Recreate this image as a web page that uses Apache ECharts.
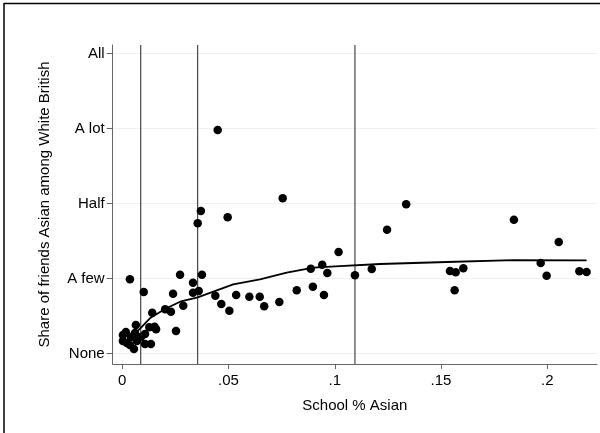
<!DOCTYPE html>
<html>
<head>
<meta charset="utf-8">
<script src="https://cdn.jsdelivr.net/npm/echarts@6/dist/echarts.min.js"></script>
<style>
  html, body { margin: 0; padding: 0; background: #fff; }
  #chart { width: 600px; height: 433px; }
</style>
</head>
<body>
<div id="chart"></div>
<script>
// tick positions and labels
const xTickValues = [0, 0.05, 0.1, 0.15, 0.2];
const xTickLabels = ['0', '.05', '.1', '.15', '.2'];
const yTickValues = [0, 1, 2, 3, 4];
const yTickLabels = ['None', 'A few', 'Half', 'A lot', 'All'];

// axis ranges
const xMin = -0.0045, xMax = 0.2234;
const yMin = -0.137, yMax = 4.116;

// vertical cut-off lines (school % Asian)
const cutoffs = [0.0087, 0.0355, 0.1095];

// one dot per school: share Asian, mean friendship share
const schoolAsian = [
  0.1336, 0.1246, 0.1843, 0.2054, 0.1542, 0.1569, 0.1605, 0.1564, 0.1969, 0.1997, 0.2151, 0.2185,
  0.0449, 0.0755, 0.0370, 0.0355, 0.0496, 0.1018, 0.0272, 0.0375, 0.0333, 0.0333, 0.0360, 0.0287,
  0.0438, 0.0466, 0.0504, 0.0536, 0.0598, 0.0647, 0.0668, 0.0739, 0.0821, 0.0887, 0.0897, 0.0941,
  0.0965, 0.0949, 0.1095, 0.1174,
  0.0036, 0.0101, 0.0239, 0.0141, 0.0202, 0.0229, 0.0253, 0.0064, 0.0127, 0.0159,
  0.0003, 0.0003, 0.0022, 0.0041, 0.0060, 0.0055, 0.0069, 0.0088, 0.0107, 0.0107, 0.0135, 0.0152,
  0.0036, 0.0017
];
const friendShare = [
  1.992, 1.653, 1.787, 1.489, 1.103, 1.085, 1.139, 0.845, 1.209, 1.040, 1.099, 1.089,
  2.983, 2.072, 1.903, 1.739, 1.819, 1.356, 1.053, 1.053, 0.947, 0.813, 0.836, 0.640,
  0.773, 0.663, 0.573, 0.783, 0.760, 0.760, 0.632, 0.689, 0.845, 1.133, 0.893, 1.187,
  1.076, 0.783, 1.045, 1.129,
  0.992, 0.823, 0.800, 0.547, 0.592, 0.560, 0.303, 0.383, 0.352, 0.325,
  0.249, 0.169, 0.143, 0.223, 0.276, 0.063, 0.169, 0.223, 0.263, 0.129, 0.129, 0.360,
  0.116, 0.289
];

// smoothed fit
const fitX = [0.0003, 0.0085, 0.0130, 0.0201, 0.0272, 0.0355, 0.0522, 0.0648, 0.0774, 0.0899, 0.1024, 0.1213, 0.1527, 0.1840, 0.2185];
const fitY = [0.120, 0.339, 0.472, 0.596, 0.693, 0.752, 0.925, 0.992, 1.080, 1.147, 1.169, 1.196, 1.223, 1.249, 1.245];

const font = 'Liberation Sans, Arial, Helvetica, sans-serif';
const axisGrey = '#666';

let chart = echarts.init(document.getElementById('chart'), null, { renderer: 'canvas' });

// markLine rounds x values, so the cut-offs are plain line series instead
let cutoffSeries = cutoffs.map((v) => ({
  type: 'line',
  z: 1,
  silent: true,
  symbol: 'none',
  lineStyle: { color: '#222', width: 1 },
  data: [[v, yMin], [v, yMax]]
}));

let option = {
  animation: false,
  backgroundColor: '#fff',
  grid: {
    left: 112.7,
    right: 3,
    top: 45,
    bottom: 69,
    containLabel: false
  },
  xAxis: {
    type: 'value',
    min: xMin,
    max: xMax,
    name: 'School % Asian',
    nameLocation: 'middle',
    nameGap: 34,
    nameTextStyle: { fontFamily: font, fontSize: 15, color: '#000' },
    axisLine: { show: true, onZero: false, lineStyle: { color: axisGrey, width: 1 } },
    axisTick: { show: true, length: 5, customValues: xTickValues, lineStyle: { color: axisGrey } },
    axisLabel: {
      customValues: xTickValues,
      margin: 9,
      fontFamily: font,
      fontSize: 15,
      color: '#000',
      formatter: (v) => xTickLabels[xTickValues.indexOf(v)]
    },
    splitLine: { show: false }
  },
  yAxis: {
    type: 'value',
    min: yMin,
    max: yMax,
    name: 'Share of friends Asian among White British',
    nameLocation: 'middle',
    nameRotate: 90,
    nameGap: 60,
    nameTextStyle: { fontFamily: font, fontSize: 15, color: '#000' },
    axisLine: { show: true, onZero: false, lineStyle: { color: axisGrey, width: 1 } },
    axisTick: { show: true, length: 6, customValues: yTickValues, lineStyle: { color: axisGrey } },
    axisLabel: {
      customValues: yTickValues,
      margin: 8,
      fontFamily: font,
      fontSize: 15,
      color: '#000',
      formatter: (v) => yTickLabels[yTickValues.indexOf(v)]
    },
    splitLine: { show: false }
  },
  series: [
    {
      // faint horizontal grid, kept under the dots
      type: 'line',
      data: [],
      z: 0,
      silent: true,
      markLine: {
        z: 0,
        silent: true,
        symbol: 'none',
        label: { show: false },
        animation: false,
        data: yTickValues.map((v) => ({ yAxis: v, lineStyle: { color: '#eaf2f3', width: 1, type: 'solid' } }))
      }
    },
    ...cutoffSeries,
    {
      type: 'scatter',
      z: 3,
      symbol: 'circle',
      symbolSize: 8.5,
      itemStyle: { color: '#000', opacity: 1 },
      data: schoolAsian.map((x, i) => [x, friendShare[i]])
    },
    {
      type: 'line',
      z: 4,
      symbol: 'none',
      smooth: false,
      lineStyle: { color: '#000', width: 1.8 },
      data: fitX.map((x, i) => [x, fitY[i]])
    }
  ],
  graphic: [
    // outer graph frame (top and left edges only are visible)
    { type: 'line', shape: { x1: 4, y1: 3.5, x2: 600, y2: 3.5 }, style: { stroke: '#000', lineWidth: 1.5 } },
    { type: 'line', shape: { x1: 4, y1: 3, x2: 4, y2: 433 }, style: { stroke: '#000', lineWidth: 1.5 } }
  ]
};

chart.setOption(option);
</script>
</body>
</html>
